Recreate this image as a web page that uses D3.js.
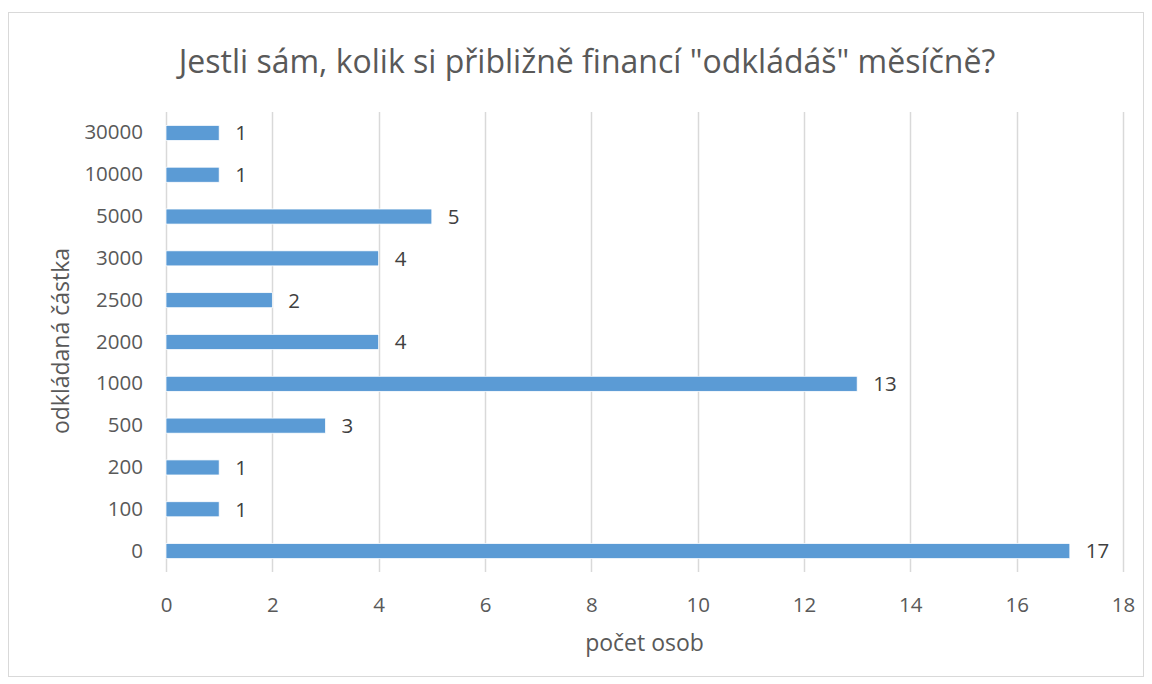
<!DOCTYPE html>
<html><head><meta charset="utf-8">
<script src="https://cdn.jsdelivr.net/npm/d3@7"></script>
<style>
body{margin:0;background:#fff;}
text{font-family:"Open Sans","Noto Sans",sans-serif;}
</style></head>
<body><svg id="c" width="1152" height="684"></svg>
<script>
const categories = ["30000","10000","5000","3000","2500","2000","1000","500","200","100","0"];
const values = [1,1,5,4,2,4,13,3,1,1,17];
const xTicks = [0,2,4,6,8,10,12,14,16,18];
const title = "Jestli sám, kolik si přibližně financí \"odkládáš\" měsíčně?";
const xTitle = "počet osob";
const yTitle = "odkládaná částka";

const svg = d3.select("#c");
svg.append("rect").attr("x",8.5).attr("y",12.5).attr("width",1135).attr("height",664)
  .attr("fill","#fff").attr("stroke","#d9d9d9").attr("stroke-width",1);

const m = {l:166, r:1123, t:112, b:572};
const x = d3.scaleLinear().domain([0,18]).range([m.l,m.r]);
const y = d3.scaleBand().domain(categories).range([m.t,m.b]).paddingInner(0.64).paddingOuter(0.32);

const g = svg.append("g");
g.selectAll("line.grid").data(xTicks).join("line").attr("class","grid")
  .attr("x1",d=>Math.round(x(d))+0.5).attr("x2",d=>Math.round(x(d))+0.5)
  .attr("y1",m.t).attr("y2",m.b).attr("stroke","#d9d9d9").attr("stroke-width",1.5);

g.selectAll("rect.bar").data(categories).join("rect").attr("class","bar")
  .attr("x",x(0)).attr("y",d=>y(d))
  .attr("width",(d,i)=>x(values[i])-x(0)).attr("height",y.bandwidth())
  .attr("fill","#5b9bd5").attr("stroke","#ffffff").attr("stroke-width",0.75);

g.selectAll("text.val").data(categories).join("text").attr("class","val")
  .attr("x",(d,i)=>x(values[i])+16).attr("y",d=>y(d)+y.bandwidth()/2)
  .attr("dy","0.36em").attr("font-size",20.5).attr("fill","#404040")
  .text((d,i)=>values[i]);

const xa = d3.axisBottom(x).tickValues(xTicks).tickSize(0).tickPadding(25);
const xg = svg.append("g").attr("transform",`translate(0,${m.b})`).call(xa);
xg.select(".domain").remove();
xg.selectAll("text").attr("font-size",20.5).attr("fill","#595959").attr("font-family","\"Open Sans\",sans-serif");

const ya = d3.axisLeft(y).tickSize(0).tickPadding(23);
const yg = svg.append("g").attr("transform",`translate(${m.l},0)`).call(ya);
yg.select(".domain").remove();
yg.selectAll("text").attr("font-size",20.5).attr("fill","#595959").attr("font-family","\"Open Sans\",sans-serif");

svg.append("text").attr("x",587).attr("y",62).attr("dy","0.35em").attr("text-anchor","middle")
  .attr("font-size",32).attr("fill","#595959").text(title);
svg.append("text").attr("x",(m.l+m.r)/2).attr("y",643).attr("dy","0.35em").attr("text-anchor","middle")
  .attr("font-size",23).attr("fill","#595959").text(xTitle);
svg.append("text").attr("transform",`translate(61,341) rotate(-90)`).attr("dy","0.35em").attr("text-anchor","middle")
  .attr("font-size",23).attr("fill","#595959").text(yTitle);
</script></body></html>
